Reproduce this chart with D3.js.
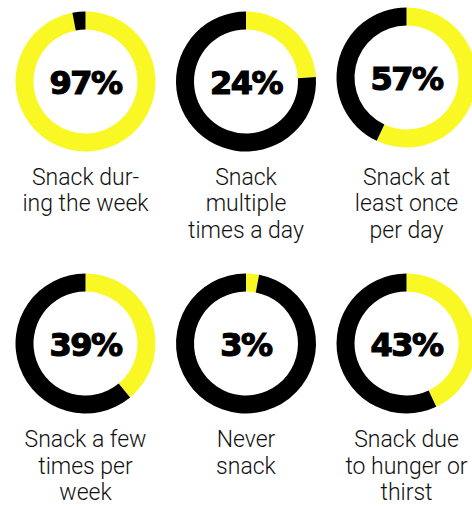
<!DOCTYPE html>
<html>
<head>
<meta charset="utf-8">
<script src="https://cdn.jsdelivr.net/npm/d3@7"></script>
<style>
  body { margin: 0; background: #fff; }
  .pct { font-family: "DejaVu Sans", sans-serif; font-weight: bold; font-size: 32px; fill: #000;
         stroke: #000; stroke-width: 1.2px; letter-spacing: -1.5px; }
  .lbl { font-family: Roboto, sans-serif; font-weight: 300; font-size: 23px; fill: #111; }
</style>
</head>
<body>
<div class="container"></div>
<script>
var values = [97, 24, 57, 39, 3, 43],
	labels = [
		["Snack dur-", "ing the week"],
		["Snack", "multiple", "times a day"],
		["Snack at", "least once", "per day"],
		["Snack a few", "times per", "week"],
		["Never", "snack"],
		["Snack due", "to hunger or", "thirst"]
	],
	WIDTH = 472,
	HEIGHT = 506,
	OUTER = 70,
	INNER = 52,
	LINE = 26.5,
	YELLOW = '#f9f724',
	BLACK = '#000';

function translate(x, y) {
	return 'translate(' + x + ',' + y + ')';
}

var svg = d3.select('.container').append('svg')
	.attr('width', WIDTH)
	.attr('height', HEIGHT);

var xScale = d3.scaleLinear().domain([0, 2]).range([85.5, 406.5]),
	yScale = d3.scaleLinear().domain([0, 1]).range([81.5, 343.5]),
	labelY = d3.scaleLinear().domain([0, 1]).range([184.5, 447]);

var pie = d3.pie().sort(null).value(function(d) { return d; }),
	arc = d3.arc().innerRadius(INNER).outerRadius(OUTER);

values.forEach(function(v, i) {
	var col = i % 3,
		row = Math.floor(i / 3),
		cx = xScale(col),
		cy = yScale(row) - (i === 2 ? 4 : 0);

	var g = svg.append('g').attr('transform', translate(cx, cy));

	g.selectAll('path')
		.data(pie([v, 100 - v]))
		.enter().append('path')
		.attr('d', arc)
		.attr('fill', function(d, j) { return j === 0 ? YELLOW : BLACK; });

	g.append('text')
		.attr('class', 'pct')
		.attr('text-anchor', 'middle')
		.attr('y', 12)
		.text(v + '%');

	svg.append('g')
		.attr('transform', translate(cx, labelY(row)))
		.selectAll('text')
		.data(labels[i]).enter()
		.append('text')
		.attr('class', 'lbl')
		.attr('text-anchor', 'middle')
		.attr('y', function(d, j) { return j * LINE; })
		.text(function(d) { return d; });
});
</script>
</body>
</html>
